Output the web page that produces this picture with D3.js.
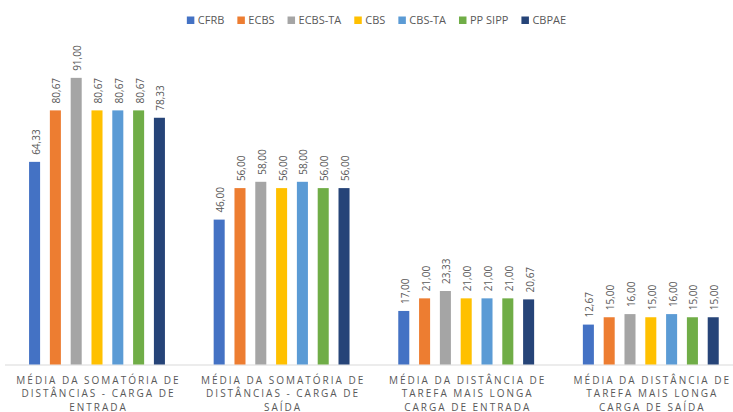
<!DOCTYPE html>
<html><head><meta charset="utf-8">
<script src="https://cdn.jsdelivr.net/npm/d3@7"></script>
<style>
body{margin:0;background:#fff;}
text{font-family:"Open Sans","Liberation Sans",sans-serif;fill:#595959;}
</style></head>
<body><svg id="c" width="733" height="412"></svg>
<script>
const categories = [
  ["MÉDIA DA SOMATÓRIA DE","DISTÂNCIAS - CARGA DE","ENTRADA"],
  ["MÉDIA DA SOMATÓRIA DE","DISTÂNCIAS - CARGA DE","SAÍDA"],
  ["MÉDIA DA DISTÂNCIA DE","TAREFA MAIS LONGA","CARGA DE ENTRADA"],
  ["MÉDIA DA DISTÂNCIA DE","TAREFA MAIS LONGA","CARGA DE SAÍDA"]
];
const seriesNames = ["CFRB","ECBS","ECBS-TA","CBS","CBS-TA","PP SIPP","CBPAE"];
const colors = ["#4472C4","#ED7D31","#A5A5A5","#FFC000","#5B9BD5","#70AD47","#264478"];
const CFRB   = [64.33, 46.00, 17.00, 12.67];
const ECBS   = [80.67, 56.00, 21.00, 15.00];
const ECBS_TA= [91.00, 58.00, 23.33, 16.00];
const CBS    = [80.67, 56.00, 21.00, 15.00];
const CBS_TA = [80.67, 58.00, 21.00, 16.00];
const PP_SIPP= [80.67, 56.00, 21.00, 15.00];
const CBPAE  = [78.33, 56.00, 20.67, 15.00];
const seriesValues = [CFRB, ECBS, ECBS_TA, CBS, CBS_TA, PP_SIPP, CBPAE];

const svg = d3.select("#c");
const y = d3.scaleLinear().domain([0,100]).range([364.5, 49.5]);
const x0 = d3.scaleBand().domain(d3.range(categories.length)).range([4.7, 743.1]).paddingInner(0.211).paddingOuter(0.1055);
const x1 = d3.scaleBand().domain(seriesNames).range([0, x0.bandwidth()]).paddingInner(0.47).paddingOuter(0.235);

// baseline
svg.append("line").attr("x1",5).attr("x2",733).attr("y1",y(0)+0.5).attr("y2",y(0)+0.5)
  .attr("stroke","#d9d9d9").attr("stroke-width",1);

const fmt = v => d3.format(".2f")(v).replace(".", ",");

categories.forEach((cat, ci) => {
  const g = svg.append("g").attr("transform", `translate(${x0(ci)},0)`);
  seriesNames.forEach((s, si) => {
    const v = seriesValues[si][ci];
    g.append("rect").attr("x", x1(s)).attr("width", x1.bandwidth())
      .attr("y", y(v)).attr("height", y(0) - y(v)).attr("fill", colors[si]);
    const cx = x1(s) + x1.bandwidth()/2 + 1.5;
    g.append("text").attr("transform", `translate(${cx},${y(v)-7}) rotate(-90)`)
      .attr("dy","0.35em").attr("font-size","10px").attr("text-anchor","start").text(fmt(v));
  });
  const t = svg.append("text").attr("text-anchor","middle").attr("font-size","10px")
    .attr("letter-spacing","2px");
  cat.forEach((line, li) => {
    t.append("tspan").attr("x", x0(ci) + x0.bandwidth()/2 + 1.5).attr("y", 383.5 + li*13.5).text(line);
  });
});

// legend
const leg = svg.append("g");
let lx = 0;
seriesNames.forEach((s, si) => {
  const it = leg.append("g");
  it.append("rect").attr("x", 0).attr("y", -3.5).attr("width", 7.5).attr("height", 7.5).attr("fill", colors[si]);
  const tx = it.append("text").attr("x", 11).attr("dy","0.35em").attr("font-size","11px").text(s);
  const w = tx.node().getComputedTextLength();
  it.attr("transform", `translate(${lx},20)`);
  lx += 11 + w + 13;
});
const totalW = lx - 13;
leg.attr("transform", `translate(${(733 - totalW)/2 + 10},0)`);
</script></body></html>
